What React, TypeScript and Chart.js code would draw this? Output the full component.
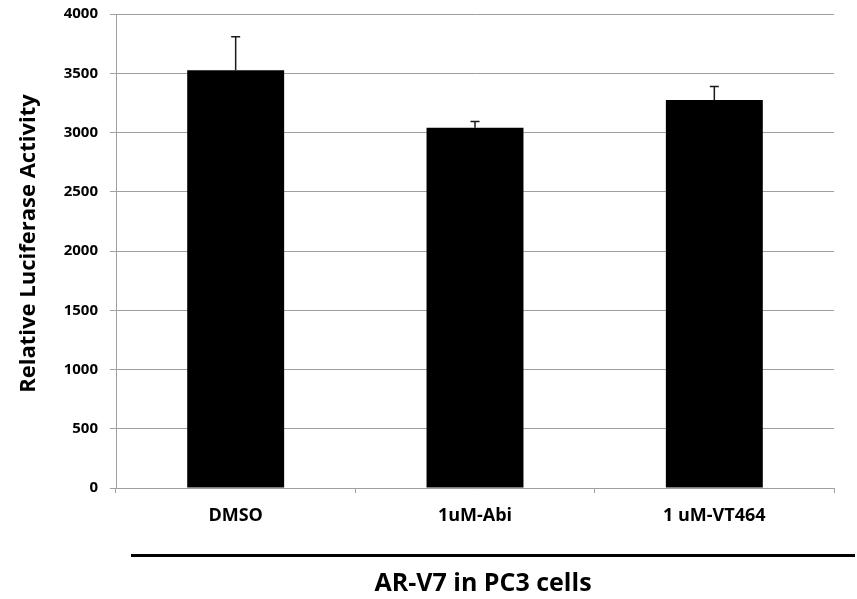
import React, { useEffect, useRef } from "react";
import { Chart, registerables } from "chart.js";

Chart.register(...registerables);

const categories = ["DMSO", "1uM-Abi", "1 uM-VT464"];
const values = [3525, 3040, 3275];
const errors = [282, 52, 114];
const yMin = 0;
const yMax = 4000;
const yStep = 500;
const yTitle = "Relative Luciferase Activity";
const xTitle = "AR-V7 in PC3 cells";

const FONT = "'Open Sans', 'DejaVu Sans', sans-serif";

const errorBarPlugin = {
  id: "errorBars",
  afterDatasetsDraw(chart: any) {
    const meta = chart.getDatasetMeta(0);
    const y = chart.scales.y;
    const ctx = chart.ctx;
    ctx.save();
    ctx.strokeStyle = "#1a1a1a";
    ctx.lineWidth = 1.5;
    meta.data.forEach((bar: any, i: number) => {
      const x = bar.x;
      const top = y.getPixelForValue(values[i] + errors[i]);
      const base = y.getPixelForValue(values[i]);
      ctx.beginPath();
      ctx.moveTo(x, base);
      ctx.lineTo(x, top);
      ctx.moveTo(x - 4.5, top);
      ctx.lineTo(x + 4.5, top);
      ctx.stroke();
    });
    ctx.restore();
  },
};

const titlesPlugin = {
  id: "customTitles",
  afterDraw(chart: any) {
    const ctx = chart.ctx;
    const area = chart.chartArea;
    ctx.save();
    ctx.fillStyle = "#000";
    ctx.font = `bold 22px ${FONT}`;
    ctx.textAlign = "center";
    ctx.textBaseline = "alphabetic";
    ctx.translate(35, (area.top + area.bottom) / 2 - 7.5);
    ctx.rotate(-Math.PI / 2);
    ctx.fillText(yTitle, 0, 0);
    ctx.restore();

    ctx.save();
    ctx.strokeStyle = "#000";
    ctx.lineWidth = 3;
    ctx.beginPath();
    ctx.moveTo(area.left + 15, area.bottom + 67.5);
    ctx.lineTo(chart.width - 2, area.bottom + 67.5);
    ctx.stroke();
    ctx.fillStyle = "#000";
    ctx.font = `bold 25px ${FONT}`;
    ctx.textAlign = "center";
    ctx.textBaseline = "alphabetic";
    ctx.fillText(xTitle, (area.left + area.right) / 2 + 8, area.bottom + 103);
    ctx.restore();
  },
};

export default function App() {
  const ref = useRef<HTMLCanvasElement | null>(null);

  useEffect(() => {
    if (!ref.current) return;
    const chart = new Chart(ref.current, {
      type: "bar",
      data: {
        labels: categories,
        datasets: [
          {
            data: values,
            backgroundColor: "#000000",
            borderWidth: 0,
            barPercentage: 0.405,
            categoryPercentage: 1,
          },
        ],
      },
      options: {
        responsive: false,
        animation: false,
        layout: { padding: { top: 14, right: 23, bottom: 0, left: 0 } },
        plugins: {
          legend: { display: false },
          tooltip: { enabled: false },
          title: { display: false },
        },
        scales: {
          x: {
            offset: true,
            grid: {
              offset: true,
              drawOnChartArea: false,
              drawTicks: true,
              tickLength: 5,
              color: "#a0a0a0",
            },
            border: { display: true, color: "#a0a0a0", width: 1 },
            ticks: {
              color: "#000",
              font: { family: FONT, size: 18, weight: "bold" },
              padding: 12,
              maxRotation: 0,
            },
            afterFit: (s: any) => {
              s.height = 111;
              s.paddingLeft = 0;
              s.paddingRight = 0;
            },
          },
          y: {
            min: yMin,
            max: yMax,
            grid: {
              color: "#a0a0a0",
              drawTicks: true,
              tickLength: 6,
            },
            border: { display: true, color: "#a0a0a0", width: 1 },
            ticks: {
              stepSize: yStep,
              color: "#000",
              font: { family: FONT, size: 15, weight: "bold" },
              padding: 12,
              callback: (v: any) => String(v),
            },
            afterFit: (s: any) => {
              s.width = 116;
              s.paddingTop = 0;
              s.paddingBottom = 0;
            },
          },
        },
      },
      plugins: [errorBarPlugin, titlesPlugin],
    });
    return () => chart.destroy();
  }, []);

  return (
    <div style={{ position: "absolute", left: 0, top: 0, width: 857, height: 599, background: "#fff" }}>
      <canvas ref={ref} width={857} height={599} style={{ display: "block" }} />
    </div>
  );
}
